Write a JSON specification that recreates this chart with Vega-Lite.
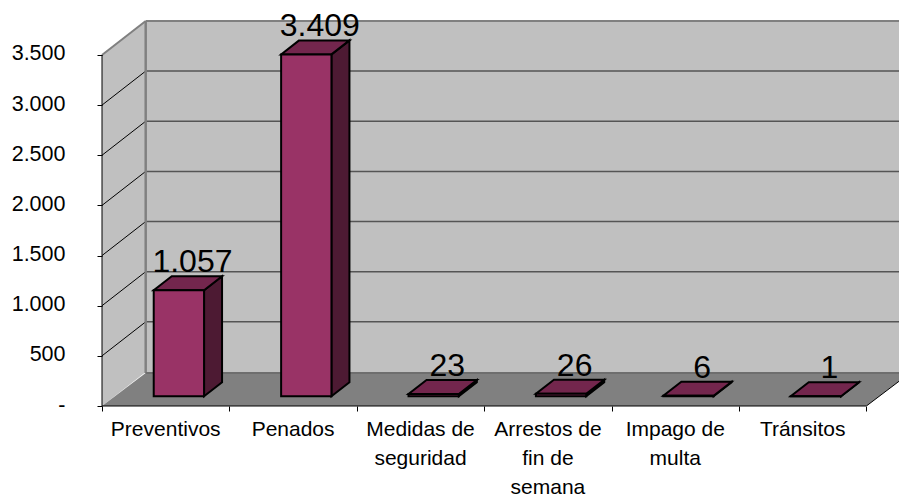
{
"$schema":"https://vega.github.io/schema/vega-lite/v6.json",
"width":797,"height":406,"autosize":{"type":"none"},
"padding":{"left":102,"top":0,"right":0,"bottom":92},
"background":"white",
"config":{"view":{"stroke":null},"font":"Liberation Sans"},
"datasets":{
"bars":[
{"category":"Preventivos","value":1057},
{"category":"Penados","value":3409},
{"category":"Medidas de\nseguridad","value":23},
{"category":"Arrestos de\nfin de\nsemana","value":26},
{"category":"Impago de\nmulta","value":6},
{"category":"Tránsitos","value":1}],
"depth":[{"d":0},{"d":1}],
"ticks":[{"v":0},{"v":500},{"v":1000},{"v":1500},{"v":2000},{"v":2500},{"v":3000},{"v":3500}]
},
"layer":[
{"data":{"name":"depth"},
 "transform":[{"calculate":"datum.d*0.343","as":"x"},{"calculate":"datum.d*339","as":"lo"},{"calculate":"3500+datum.d*339","as":"hi"}],
 "mark":{"type":"area","color":"#C0C0C0","orient":"vertical"},
 "encoding":{
  "x":{"field":"x","type":"quantitative","scale":{"domain":[0,6.256],"nice":false,"zero":false},"axis":{"values":[0,1,2,3,4,5,6],"labels":false,"domain":false,"grid":false,"ticks":true,"tickSize":5,"tickColor":"#000","tickWidth":1,"title":null,"zindex":1}},
  "y":{"field":"hi","type":"quantitative","scale":{"domain":[0,4047.9],"nice":false,"zero":false},"axis":{"values":[0,500,1000,1500,2000,2500,3000,3500],"labelExpr":"datum.value==0?'-':replace(format(datum.value,','),',','.')","labelFont":"Liberation Sans","labelFontSize":21.5,"labelColor":"#000","labelPadding":32,"labelOffset":-1,"domain":false,"grid":false,"tickSize":5,"tickColor":"#000","tickWidth":1,"title":null,"zindex":1}},
  "y2":{"field":"lo"}}},
{"data":{"name":"depth"},
 "transform":[{"filter":"datum.d==1"},{"calculate":"0.343","as":"x"},{"calculate":"6.343","as":"x2"},{"calculate":"330","as":"lo"},{"calculate":"3839","as":"hi"}],
 "mark":{"type":"rect","color":"#C0C0C0","clip":true},
 "encoding":{
  "x":{"field":"x","type":"quantitative","scale":{"domain":[0,6.256],"nice":false,"zero":false}},
  "x2":{"field":"x2"},
  "y":{"field":"hi","type":"quantitative","scale":{"domain":[0,4047.9],"nice":false,"zero":false}},
  "y2":{"field":"lo"}}},
{"data":{"name":"depth"},
 "transform":[{"calculate":"datum.d*0.343","as":"a"},{"calculate":"6+datum.d*0.343","as":"b"},{"calculate":"datum.d*330","as":"y"}],
 "mark":{"type":"area","color":"#808080","orient":"horizontal","clip":true},
 "encoding":{
  "y":{"field":"y","type":"quantitative","scale":{"domain":[0,4047.9],"nice":false,"zero":false}},
  "x":{"field":"a","type":"quantitative","scale":{"domain":[0,6.256],"nice":false,"zero":false}},
  "x2":{"field":"b"}}},
{"data":{"name":"ticks"},
 "transform":[{"filter":"datum.v>0 && datum.v<3500"},{"calculate":"0.343","as":"x"},{"calculate":"6.343","as":"x2"},{"calculate":"datum.v+339","as":"y"}],
 "mark":{"type":"rule","color":"#555555","strokeWidth":1.5,"clip":true},
 "encoding":{
  "x":{"field":"x","type":"quantitative","scale":{"domain":[0,6.256],"nice":false,"zero":false}},
  "x2":{"field":"x2"},
  "y":{"field":"y","type":"quantitative","scale":{"domain":[0,4047.9],"nice":false,"zero":false}}}},
{"data":{"name":"ticks"},
 "transform":[{"filter":"datum.v>0 && datum.v<3500"},{"calculate":"0","as":"x"},{"calculate":"0.343","as":"x2"},{"calculate":"datum.v+339","as":"y2"}],
 "mark":{"type":"rule","color":"#000000","strokeWidth":1},
 "encoding":{
  "x":{"field":"x","type":"quantitative","scale":{"domain":[0,6.256],"nice":false,"zero":false}},
  "x2":{"field":"x2"},
  "y":{"field":"v","type":"quantitative","scale":{"domain":[0,4047.9],"nice":false,"zero":false}},
  "y2":{"field":"y2"}}},
{"data":{"name":"ticks"},
 "transform":[{"filter":"datum.v==3500"},{"calculate":"0","as":"x"},{"calculate":"0.343","as":"x2"},{"calculate":"3839","as":"y2"}],
 "mark":{"type":"rule","color":"#808080","strokeWidth":2},
 "encoding":{
  "x":{"field":"x","type":"quantitative","scale":{"domain":[0,6.256],"nice":false,"zero":false}},
  "x2":{"field":"x2"},
  "y":{"field":"v","type":"quantitative","scale":{"domain":[0,4047.9],"nice":false,"zero":false}},
  "y2":{"field":"y2"}}},
{"data":{"name":"ticks"},
 "transform":[{"filter":"datum.v==3500"},{"calculate":"0.343","as":"x"},{"calculate":"6.343","as":"x2"},{"calculate":"3839","as":"y"}],
 "mark":{"type":"rule","color":"#808080","strokeWidth":2,"clip":true},
 "encoding":{
  "x":{"field":"x","type":"quantitative","scale":{"domain":[0,6.256],"nice":false,"zero":false}},
  "x2":{"field":"x2"},
  "y":{"field":"y","type":"quantitative","scale":{"domain":[0,4047.9],"nice":false,"zero":false}}}},
{"data":{"name":"ticks"},
 "transform":[{"filter":"datum.v==3500"},{"calculate":"0.343","as":"x"},{"calculate":"330","as":"lo"},{"calculate":"3839","as":"y"}],
 "mark":{"type":"rule","color":"#808080","strokeWidth":2.5},
 "encoding":{
  "x":{"field":"x","type":"quantitative","scale":{"domain":[0,6.256],"nice":false,"zero":false}},
  "y":{"field":"y","type":"quantitative","scale":{"domain":[0,4047.9],"nice":false,"zero":false}},
  "y2":{"field":"lo"}}},
{"data":{"name":"ticks"},
 "transform":[{"filter":"datum.v==0"},{"calculate":"0.343","as":"x"},{"calculate":"6.343","as":"x2"},{"calculate":"330","as":"y"}],
 "mark":{"type":"rule","color":"#6E6E6E","strokeWidth":2,"clip":true},
 "encoding":{
  "x":{"field":"x","type":"quantitative","scale":{"domain":[0,6.256],"nice":false,"zero":false}},
  "x2":{"field":"x2"},
  "y":{"field":"y","type":"quantitative","scale":{"domain":[0,4047.9],"nice":false,"zero":false}}}},
{"data":{"name":"ticks"},
 "transform":[{"filter":"datum.v==3500"},{"calculate":"0","as":"x"},{"calculate":"0","as":"lo"}],
 "mark":{"type":"rule","color":"#000000","strokeWidth":1},
 "encoding":{
  "x":{"field":"x","type":"quantitative","scale":{"domain":[0,6.256],"nice":false,"zero":false}},
  "y":{"field":"v","type":"quantitative","scale":{"domain":[0,4047.9],"nice":false,"zero":false}},
  "y2":{"field":"lo"}}},
{"data":{"name":"ticks"},
 "transform":[{"filter":"datum.v==0"},{"calculate":"0","as":"x"},{"calculate":"6","as":"x2"}],
 "mark":{"type":"rule","color":"#000000","strokeWidth":1},
 "encoding":{
  "x":{"field":"x","type":"quantitative","scale":{"domain":[0,6.256],"nice":false,"zero":false}},
  "x2":{"field":"x2"},
  "y":{"field":"v","type":"quantitative","scale":{"domain":[0,4047.9],"nice":false,"zero":false}}}},
{"data":{"name":"ticks"},
 "transform":[{"filter":"datum.v==0"},{"calculate":"6","as":"x"},{"calculate":"6.343","as":"x2"},{"calculate":"330","as":"y2"}],
 "mark":{"type":"rule","color":"#000000","strokeWidth":1,"clip":true},
 "encoding":{
  "x":{"field":"x","type":"quantitative","scale":{"domain":[0,6.256],"nice":false,"zero":false}},
  "x2":{"field":"x2"},
  "y":{"field":"v","type":"quantitative","scale":{"domain":[0,4047.9],"nice":false,"zero":false}},
  "y2":{"field":"y2"}}},
{"data":{"name":"bars"},
 "transform":[{"window":[{"op":"row_number","as":"n"}]},{"calculate":"datum.n-1+0.801","as":"right"},{"calculate":"0","as":"near"},{"calculate":"1","as":"far"},{"fold":["near","far"],"as":["edge","d"]},
  {"calculate":"datum.right+datum.d*0.1413","as":"x"},{"calculate":"96.7+datum.d*139.6","as":"lo"},{"calculate":"datum.lo+datum.value","as":"hi"}],
 "mark":{"type":"area","color":"#4D1A33","stroke":"#000000","strokeWidth":2,"orient":"vertical"},
 "encoding":{
  "detail":{"field":"category"},
  "x":{"field":"x","type":"quantitative","scale":{"domain":[0,6.256],"nice":false,"zero":false}},
  "y":{"field":"hi","type":"quantitative","scale":{"domain":[0,4047.9],"nice":false,"zero":false}},
  "y2":{"field":"lo"}}},
{"data":{"name":"bars"},
 "transform":[{"window":[{"op":"row_number","as":"n"}]},{"calculate":"datum.n-1+0.406","as":"left"},{"calculate":"datum.n-1+0.801","as":"right"},{"calculate":"0","as":"near"},{"calculate":"1","as":"far"},{"fold":["near","far"],"as":["edge","d"]},
  {"calculate":"datum.left+datum.d*0.1413","as":"a"},{"calculate":"datum.right+datum.d*0.1413","as":"b"},{"calculate":"96.7+datum.d*139.6+datum.value","as":"y"}],
 "mark":{"type":"area","color":"#73264D","stroke":"#000000","strokeWidth":2,"orient":"horizontal"},
 "encoding":{
  "detail":{"field":"category"},
  "y":{"field":"y","type":"quantitative","scale":{"domain":[0,4047.9],"nice":false,"zero":false}},
  "x":{"field":"a","type":"quantitative","scale":{"domain":[0,6.256],"nice":false,"zero":false}},
  "x2":{"field":"b"}}},
{"data":{"name":"bars"},
 "transform":[{"window":[{"op":"row_number","as":"n"}]},{"calculate":"datum.n-1+0.406","as":"left"},{"calculate":"datum.n-1+0.801","as":"right"},{"calculate":"96.7","as":"lo"},{"calculate":"datum.lo+datum.value","as":"hi"}],
 "mark":{"type":"rect","color":"#993366","stroke":"#000000","strokeWidth":2},
 "encoding":{
  "x":{"field":"left","type":"quantitative","scale":{"domain":[0,6.256],"nice":false,"zero":false}},
  "x2":{"field":"right"},
  "y":{"field":"hi","type":"quantitative","scale":{"domain":[0,4047.9],"nice":false,"zero":false}},
  "y2":{"field":"lo"}}},
{"data":{"name":"bars"},
 "transform":[{"window":[{"op":"row_number","as":"n"}]},{"calculate":"datum.n-1+0.71","as":"x"},{"calculate":"96.7+139.6+datum.value","as":"y"},{"calculate":"replace(format(datum.value,','),',','.')","as":"txt"}],
 "mark":{"type":"text","font":"Liberation Sans","fontSize":32,"color":"#000000","align":"center","baseline":"alphabetic","dy":-4},
 "encoding":{
  "x":{"field":"x","type":"quantitative","scale":{"domain":[0,6.256],"nice":false,"zero":false}},
  "y":{"field":"y","type":"quantitative","scale":{"domain":[0,4047.9],"nice":false,"zero":false}},
  "text":{"field":"txt"}}},
{"data":{"name":"bars"},
 "transform":[{"window":[{"op":"row_number","as":"n"}]},{"calculate":"datum.n-0.5","as":"x"},{"calculate":"0","as":"y"}],
 "mark":{"type":"text","font":"Liberation Sans","fontSize":21,"color":"#000000","align":"center","baseline":"alphabetic","dy":30,"lineBreak":"\n","lineHeight":29},
 "encoding":{
  "x":{"field":"x","type":"quantitative","scale":{"domain":[0,6.256],"nice":false,"zero":false}},
  "y":{"field":"y","type":"quantitative","scale":{"domain":[0,4047.9],"nice":false,"zero":false}},
  "text":{"field":"category"}}}
]
}
